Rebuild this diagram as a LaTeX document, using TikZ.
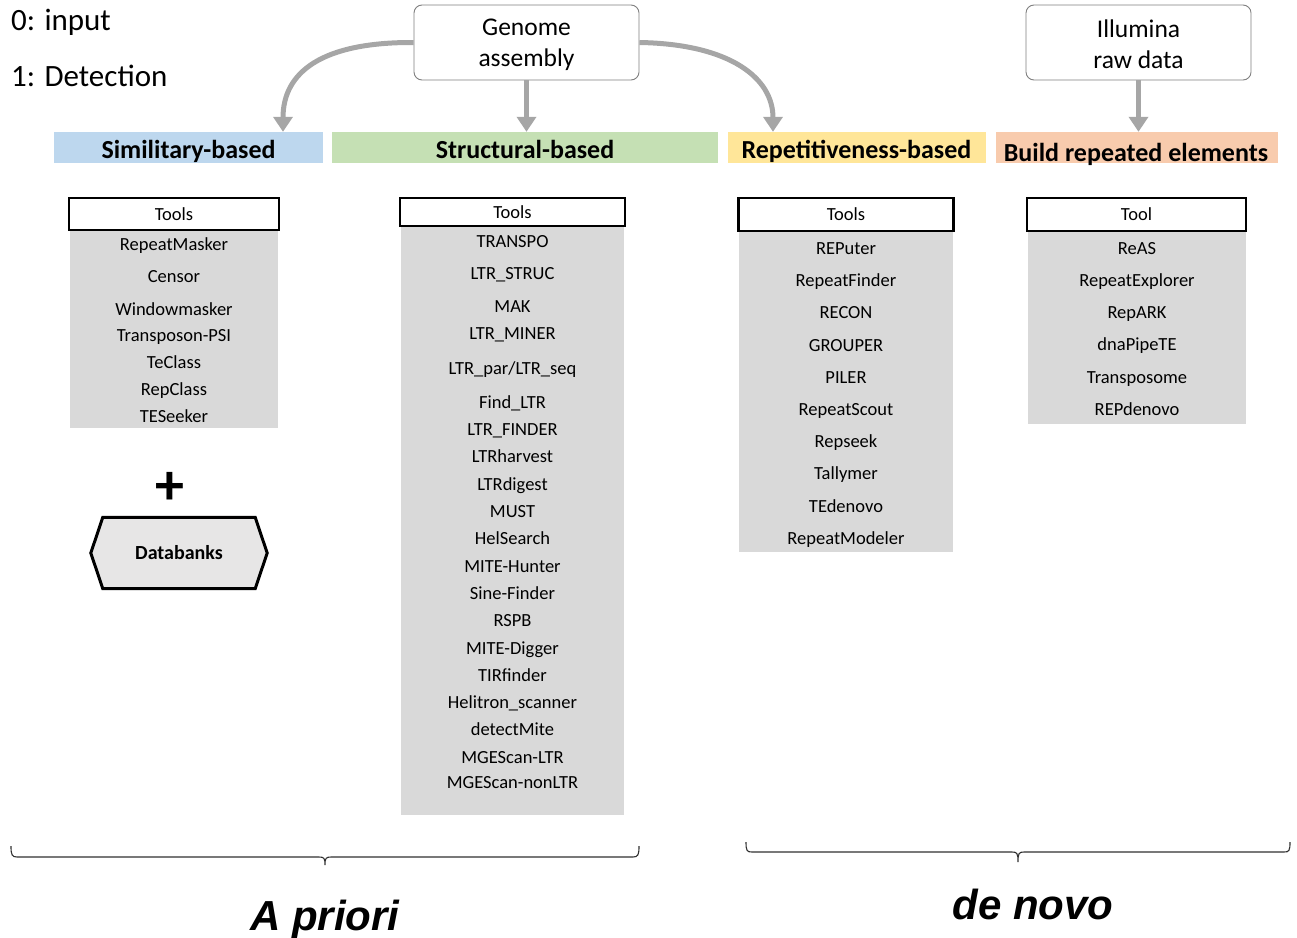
\documentclass[tikz,border=0pt]{standalone}
\usepackage{fontspec}
\setmainfont{Carlito}
\newfontfamily\arialfont{Liberation Sans}
\usetikzlibrary{arrows.meta,backgrounds,calc}

\definecolor{bandblue}{HTML}{BDD7EE}
\definecolor{bandgreen}{HTML}{C5E0B4}
\definecolor{bandyellow}{HTML}{FFE699}
\definecolor{bandpeach}{HTML}{F8CBAD}
\definecolor{listgray}{HTML}{D9D9D9}
\definecolor{bankfill}{HTML}{E7E6E6}
\definecolor{flowgray}{HTML}{A6A6A6}
\definecolor{inputborder}{HTML}{7F7F7F}
\definecolor{bracecol}{HTML}{303030}

\begin{document}
\begin{tikzpicture}[x=1pt,y=-1pt,
  steplabel/.style={anchor=west, inner sep=0, font=\fontsize{31}{34}\selectfont},
  inputbox/.style={draw=inputborder, line width=0.9pt, rounded corners=8pt, fill=white,
    minimum width=225, minimum height=75, inner sep=0},
  inputtext/.style={inner sep=0, align=center, font=\fontsize{25.5}{31}\selectfont},
  band/.style={minimum height=31, inner sep=0, text height=24, text depth=3,
    font=\fontsize{26}{30}\selectfont\bfseries},
  toolhead/.style={draw=black, line width=2.5pt, fill=white, inner sep=0,
    font=\fontsize{18.5}{20}\selectfont},
  panel/.style={fill=listgray, inner sep=0},
  item/.style={anchor=base, inner sep=0, font=\fontsize{18.5}{20}\selectfont},
  flow/.style={draw=flowgray, line width=5pt,
    -{Triangle[length=15pt,width=19pt]}},
  brace/.style={draw=bracecol, line width=1.1pt},
  approach/.style={anchor=base, inner sep=0,
    font=\arialfont\fontsize{42}{46}\selectfont\bfseries\itshape}
]
\useasboundingbox (0,0) rectangle (1297,937);

% step legend
\node[steplabel] (leg0) at (11,22) {0: input};
\node[steplabel] (leg1) at (11,76) {1: Detection};

% inputs
\node[inputbox] (genome) at (526.5,42.5) {};
\node[inputtext] (genometxt) at (526.5,45) {Genome\\assembly};
\node[inputbox] (illumina) at (1138.5,42.5) {};
\node[inputtext] (illuminatxt) at (1138.5,44) {Illumina\\raw data};

% method bands
\node[band, fill=bandblue, minimum width=269] (sim) at (188.5,147.5) {Similitary-based};
\node[band, fill=bandgreen, minimum width=386] (struct) at (525,147.5) {Structural-based};
\node[band, fill=bandyellow, minimum width=258] (rep) at (856.5,147.5) {Repetitiveness-based};
\node[band, fill=bandpeach, minimum width=282] (build) at (1137,147.5) {};
\node[anchor=base, inner sep=0, font=\fontsize{26}{30}\selectfont\bfseries] (buildtxt)
  at (1136,161) {Build repeated elements};

% flow arrows
\draw[flow] (genome.west) .. controls (322,42) and (283,72) .. ([xshift=94.5pt]sim.north);
\draw[flow] (genome.south) -- (genome.south |- struct.north);
\draw[flow] (genome.east) .. controls (730,44) and (773,78) .. ([xshift=-83.5pt]rep.north);
\draw[flow] (illumina.south) -- (illumina.south |- build.north);

% similarity-based tools
\node[panel, minimum width=208, minimum height=198] (p1) at (174,329) {};
\node[toolhead, minimum width=210, minimum height=32] (h1) at (174,214) {Tools};
\foreach \y/\t [count=\i] in {244/RepeatMasker, 276/Censor, 309/Windowmasker,
    335/Transposon-PSI, 362/TeClass, 389/RepClass, 416/TESeeker}
  \node[item] (s\i) at (174,\y+6) {\t};

% structural-based tools
\node[panel, minimum width=223, minimum height=589] (p2) at (512.5,520.5) {};
\node[toolhead, minimum width=225, minimum height=28] (h2) at (512.5,212) {Tools};
\foreach \y/\t [count=\i] in {241/TRANSPO, 273/{LTR\_STRUC}, 306/MAK, 333/{LTR\_MINER},
    368/{LTR\_par/LTR\_seq}, 402/{Find\_LTR}, 429/{LTR\_FINDER}, 456/LTRharvest,
    484/LTRdigest, 511/MUST, 538/HelSearch, 566/MITE-Hunter, 593/Sine-Finder,
    620/RSPB, 648/MITE-Digger, 675/TIRfinder, 702/{Helitron\_scanner},
    729/detectMite, 757/MGEScan-LTR, 782/MGEScan-nonLTR}
  \node[item] (t\i) at (512.5,\y+6) {\t};

% repetitiveness-based tools
\node[panel, minimum width=214, minimum height=320] (p3) at (846,392) {};
\node[toolhead, minimum width=215, minimum height=33] (h3) at (846,214.5) {Tools};
\foreach \y/\t [count=\i] in {248/REPuter, 280/RepeatFinder, 312/RECON, 345/GROUPER,
    377/PILER, 409/RepeatScout, 441/Repseek, 473/Tallymer, 506/TEdenovo,
    538/RepeatModeler}
  \node[item] (r\i) at (846,\y+6) {\t};

% read-based builders
\node[panel, minimum width=218, minimum height=192] (p4) at (1136.5,327.5) {};
\node[toolhead, minimum width=219, minimum height=33] (h4) at (1136.5,214.5) {Tool};
\foreach \y/\t [count=\i] in {248/ReAS, 280/RepeatExplorer, 312/RepARK, 344/dnaPipeTE,
    377/Transposome, 409/REPdenovo}
  \node[item] (b\i) at (1137,\y+6) {\t};

% databanks
\node[inner sep=0, font=\fontsize{58}{58}\selectfont\bfseries] (plus) at (170,488) {+};
\node[inner sep=0, minimum width=152, minimum height=71,
  font=\fontsize{20}{24}\selectfont\bfseries] (db) at (179,553) {Databanks};
\begin{scope}[on background layer]
  \draw[line width=3pt, fill=bankfill, line join=miter]
    (db.north west) -- (db.north east) -- ([xshift=12pt]db.east) --
    (db.south east) -- (db.south west) -- ([xshift=-12pt]db.west) -- cycle;
\end{scope}

% groupings: flat braces with small curls
\coordinate (apL) at (11,846);
\coordinate (apM) at (325,865);
\coordinate (apR) at (639,846);
\coordinate (dnL) at (746,842);
\coordinate (dnM) at (1018,862);
\coordinate (dnR) at (1290,842);
\draw[brace] (apL) .. controls (11,855) and (12,857) .. (17,857) -- (319,857)
  .. controls (324,857) and (325,858) .. (apM)
  .. controls (325,858) and (326,857) .. (331,857) -- (633,857)
  .. controls (638,857) and (639,855) .. (apR);
\draw[brace] (dnL) .. controls (746,851) and (747,852) .. (752,852) -- (1012,852)
  .. controls (1017,852) and (1018,853) .. (dnM)
  .. controls (1018,853) and (1019,852) .. (1024,852) -- (1284,852)
  .. controls (1289,852) and (1290,851) .. (dnR);
\node[approach] (apriori) at (325,930) {A priori};
\node[approach] (denovo) at (1033,919) {de novo};
\end{tikzpicture}
\end{document}
